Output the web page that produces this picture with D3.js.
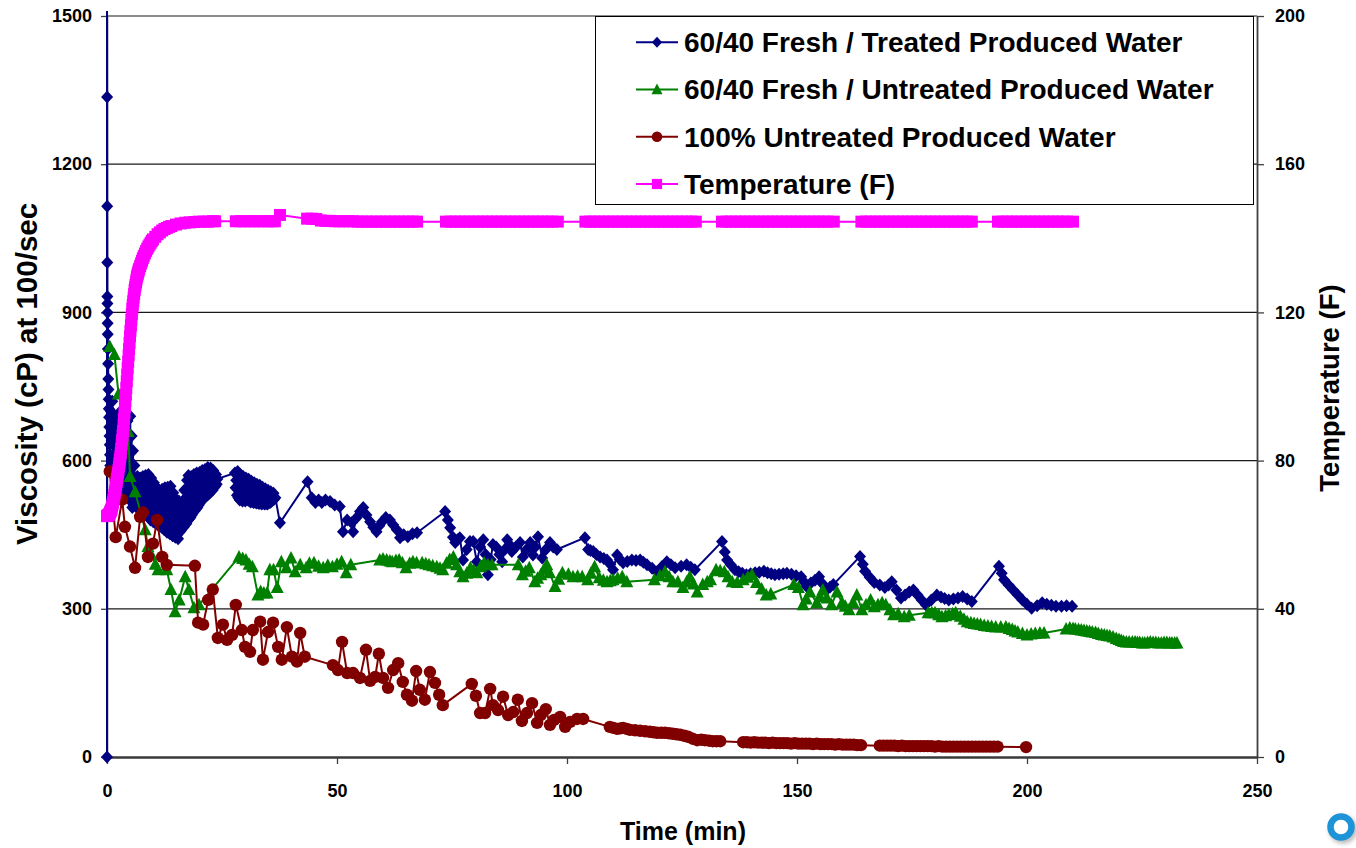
<!DOCTYPE html>
<html>
<head>
<meta charset="utf-8">
<script src="https://cdn.jsdelivr.net/npm/d3@7"></script>
<style>
  html, body { margin: 0; padding: 0; background: #fff; }
  svg { display: block; font-family: "Liberation Sans", Arial, Helvetica, sans-serif; font-weight: bold; }
</style>
</head>
<body>
<svg id="chart" width="1356" height="848"></svg>
<script>
// ---- Axis ticks ----
const viscTicks = [0, 300, 600, 900, 1200, 1500];
const tempTicks = [0, 40, 80, 120, 160, 200];
const timeTicks = [0, 50, 100, 150, 200, 250];

// ---- Series: [time (min), viscosity (cP)] ----
const treatedWater = [
  [0,0],[0,1540],[0.02,1336],[0.04,1115],[0.06,1001],[0.08,932],[0.1,918],[0.12,900],[0.14,878],[0.16,856],
  [0.2,826],[0.24,796],[0.28,765],[0.32,744],[0.36,724],[0.4,705],[0.45,688],[0.5,668],[0.55,650],[0.6,632],
  [0.65,612],[0.70,590],[0.85,700],[1.00,640],[1.15,720],[1.30,600],[1.45,690],[1.60,570],[1.75,680],[1.90,560],
  [2.05,670],[2.20,545],[2.35,660],[2.50,540],[2.65,650],[2.80,560],[2.95,700],[3.10,545],[3.25,685],[3.40,530],
  [3.55,670],[3.70,525],[3.85,660],[4.00,560],[4.15,695],[4.30,535],[4.45,680],[4.60,530],[4.75,650],[4.90,520],
  [5.05,690],[5.20,540],[5.35,650],[5.50,505],[5.65,620],[5.80,510],[5.95,590],
  [6.00,560],[6.15,515],[6.30,540],[6.45,505],[6.60,568],[6.75,512],[6.90,548],[7.05,503],[7.20,565],[7.35,510],
  [7.50,545],[7.65,500],[7.80,568],[7.95,505],[8.10,548],[8.25,495],[8.40,570],[8.55,500],[8.70,550],[8.85,488],
  [9.00,572],[9.15,490],[9.30,552],[9.45,480],[9.60,565],[9.75,485],[9.90,545],[10.05,476],[10.20,555],[10.35,480],
  [10.50,535],[10.65,472],[10.80,545],[10.95,478],[11.10,525],[11.25,468],[11.40,540],[11.55,475],[11.70,520],[11.85,465],
  [12.00,542],[12.15,470],[12.30,522],[12.45,460],[12.60,545],[12.75,465],[12.90,525],[13.05,455],[13.20,546],[13.35,460],
  [13.50,528],[13.65,452],[13.80,548],[13.95,455],[14.10,525],[14.25,448],[14.40,535],[14.55,452],[14.70,512],[14.85,445],
  [15.00,522],[15.15,448],[15.30,505],[15.45,442],[15.60,518],[15.75,455],[15.90,500],[16.05,458],[16.20,515],[16.35,465],
  [16.50,500],[16.65,465],[16.80,540],[16.95,470],[17.10,525],[17.25,472],[17.40,560],[17.55,478],[17.70,570],[17.85,482],
  [18.00,550],[18.15,485],[18.30,568],[18.45,490],[18.60,550],[18.75,495],[18.90,572],[19.05,498],[19.20,555],[19.35,502],
  [19.50,575],[19.65,505],[19.80,558],[19.95,510],[20.10,576],[20.25,515],[20.40,560],[20.55,518],[20.70,580],[20.85,522],
  [21.00,562],[21.15,525],[21.30,582],[21.45,528],[21.60,565],[21.75,530],[21.90,586],[22.05,532],[22.20,568],[22.35,535],
  [22.50,585],[22.65,538],[22.80,565],[22.95,540],[23.10,580],[23.25,545],[23.40,562],[23.55,548],[23.70,572],[23.85,552],
  [24.00,563],
  [27.80,575],[27.95,545],[28.10,560],[28.25,530],[28.40,578],[28.55,525],[28.70,555],[28.85,520],[29.00,572],[29.15,522],
  [29.30,552],[29.45,518],[29.60,568],[29.75,520],[29.90,548],[30.05,518],[30.20,565],[30.35,522],[30.50,545],[30.65,520],
  [30.80,562],[30.95,518],[31.10,542],[31.25,516],[31.40,558],[31.55,518],[31.70,540],[31.85,515],[32.00,555],[32.15,516],
  [32.30,538],[32.45,514],[32.60,552],[32.75,515],[32.90,535],[33.05,513],[33.20,550],[33.35,514],[33.50,532],[33.65,512],
  [33.80,546],[33.95,514],[34.10,530],[34.25,512],[34.40,543],[34.55,513],[34.70,528],[34.85,512],[35.00,540],[35.15,514],
  [35.30,527],[35.45,515],[35.60,537],[35.75,517],[35.90,527],[36.05,520],[36.20,534],[36.35,522],[36.60,525],
  [37.6,474],[43.6,557],[44.5,525],[45.3,515],[46.0,520],[46.7,515],[47.5,520],[48.5,517],[49.5,510],[50.6,507],
  [51.3,456],[52.2,480],[53.2,474],[53.5,456],[54.3,485],[55.0,497],[55.7,505],[56.4,490],[57.2,476],[57.9,465],
  [58.6,456],[59.2,468],[59.8,476],[60.6,485],[61.5,480],[62.2,470],[63.0,460],[63.7,444],[64.5,450],[65.4,446],
  [66.4,452],[67.4,454],
  [73.5,497],[74.1,480],[74.6,464],[75.2,445],[75.7,434],[76.2,440],[76.7,444],[77.4,399],[78.2,420],[78.9,436],
  [79.6,436],[80.4,395],[81.1,425],[81.8,440],[82.3,410],[82.8,369],[83.4,400],[83.9,430],[84.6,425],[85.3,410],
  [85.9,395],[86.5,420],[87.0,440],[87.5,430],[88.0,416],[88.9,425],[89.8,434],[90.4,405],[91.2,420],[92.0,434],
  [92.6,409],[93.1,425],[93.7,446],[94.6,403],[95.4,420],[96.3,434],[97.0,425],[97.8,420],
  [103.9,444],[104.6,420],[105.1,418],[105.7,416],[106.4,410],[107.2,405],[108.0,402],[108.7,399],[109.4,390],[110.0,379],
  [110.9,409],[111.5,400],[112.2,393],[113.1,396],[114.1,399],[115.0,398],[115.9,399],[116.6,394],[117.4,389],[118.5,382],
  [119.6,375],[120.6,385],[121.7,395],[122.6,389],[123.5,383],[124.8,386],[126.0,389],[126.9,384],[127.8,379],
  [133.7,436],[134.3,415],[134.8,399],[135.6,389],[136.5,379],[137.3,375],[138.1,372],[139.0,369],[139.9,371],[140.9,373],
  [141.8,374],[142.8,376],[143.6,373],[144.4,371],[145.2,369],[146.1,370],[147.0,371],[147.8,372],[148.8,370],[149.8,367],
  [150.9,365],[151.5,355],[152.1,345],[153.0,352],[153.9,358],[154.8,365],[155.6,350],[156.4,338],[157.2,344],[157.9,349],
  [163.7,406],[164.3,390],[164.8,376],[165.8,364],[166.8,353],[168.0,348],[169.1,343],[169.9,348],[170.6,355],[171.6,338],
  [172.6,322],[173.5,328],[174.4,334],[175.3,338],[176.2,328],[177.1,318],[178.0,308],[179.2,318],[180.4,328],[181.3,324],
  [182.1,321],[183.0,318],[184.0,320],[185.0,322],[186.0,325],[187.0,320],[188.0,315],
  [193.9,386],[194.5,372],[195.0,359],[196.0,348],[197.0,338],[198.0,328],[199.0,318],[200.0,309],[201.0,301],[202.2,306],
  [203.3,312],[204.3,309],[205.3,307],[206.3,305],[207.5,305],[208.6,306],[209.8,305]
];

const untreatedMix = [
  [0.6,831],[1.6,815],[2.5,735],[4.6,659],[5.0,568],[6.1,537],[8.3,460],[8.9,426],[9.6,410],[10.5,390],
  [11.1,379],[13.0,379],[13.9,339],[14.8,294],[15.7,318],[17.0,365],[17.8,339],[18.9,302],[20.0,308],
  [28.7,405],[29.5,402],[30.2,399],[30.9,390],[31.6,385],[32.8,328],[33.4,335],[34.1,332],[34.8,332],[35.4,379],
  [36.2,379],[37.0,343],[37.9,395],[39.0,383],[40.0,403],[40.9,375],[42.0,389],[43.3,383],[44.0,392],[45.0,393],
  [46.0,386],[47.0,383],[48.0,388],[49.0,385],[50.0,390],[51.0,395],[52.0,373],[53.0,389],
  [59.3,399],[60.0,401],[60.8,399],[61.5,397],[62.0,395],[62.8,398],[63.5,399],[64.2,393],[65.0,383],[65.8,392],
  [66.5,395],[67.3,393],[68.5,393],[69.3,391],[70.0,389],[70.8,387],[71.7,385],[72.4,382],[73.0,379],[73.8,392],
  [74.5,400],[75.3,405],[76.0,389],[76.7,375],[77.4,365],[78.2,372],[79.0,383],[79.7,378],[80.4,373],[81.2,385],
  [82.0,393],[82.8,389],[83.7,389],
  [89.4,389],[90.3,369],[91.0,376],[91.8,383],[93.0,355],[93.6,362],[94.3,369],[95.0,380],[95.6,389],[96.2,373],
  [97.4,345],[98.2,360],[99.0,373],[100.3,370],[101.3,365],[102.3,366],[103.3,365],[104.5,359],[105.2,372],[106.0,385],
  [107.0,363],[107.9,358],[108.7,355],[109.4,357],[110.0,359],[111.0,362],[112.0,365],[113.0,355],
  [119.0,359],[120.2,367],[121.3,375],[122.2,365],[123.0,355],[124.1,355],[125.2,343],[126.0,354],[126.7,365],[127.5,350],
  [128.3,334],[129.5,349],[130.5,355],[131.2,359],[132.4,379],[133.3,377],[134.2,375],[135.0,365],[135.9,355],[137.0,353],
  [138.3,359],[139.3,364],[140.2,369],[141.2,353],[142.3,340],[143.3,328],[144.3,330],
  [149.3,349],[150.3,343],[151.3,308],[152.0,320],[152.8,334],[154.3,312],[155.0,325],[155.6,338],[156.5,322],[157.5,308],
  [158.7,334],[159.8,312],[160.5,305],[161.3,298],[162.2,313],[163.0,328],[164.1,298],[165.0,308],[166.0,318],[166.8,304],
  [167.6,308],[168.5,312],[169.3,308],[170.2,298],[171.0,288],[172.0,290],[173.3,284],[174.4,287],
  [178.5,292],[179.3,292],[180.0,292],[180.8,288],[181.5,284],[182.3,286],[183.0,288],[183.8,290],[184.5,292],[185.5,285],
  [186.3,279],[187.0,274],[187.8,272],[188.5,270],[189.2,269],[189.9,268],[190.7,266],[191.5,265],[192.3,264],[193.2,263],
  [194.3,263],[195.4,263],[196.1,260],[196.8,258],[197.4,255],[198.0,253],[199.0,250],[200.0,247],[200.9,249],[201.8,250],
  [202.8,251],[203.7,251],
  [208.5,259],[209.3,261],[210.0,260],[210.5,259],[211.2,258],[211.8,257],[212.4,256],[213.0,255],[213.6,254],[214.2,253],
  [214.9,252],[215.5,250],[216.2,248],[216.8,247],[217.4,246],[218.0,245],[218.7,243],[219.4,240],[220.0,238],[220.5,236],
  [221.0,234],[221.6,233],[222.2,233],[222.9,233],[223.5,233],[224.0,232],[224.5,232],[225.1,231],[225.6,231],[226.2,232],
  [226.8,233],[227.4,232],[228.0,232],[228.6,231],[229.2,231],[229.8,232],[230.4,232],[231.0,231],[231.5,231],[232.1,231],
  [232.6,231]
];

const untreatedFull = [
  [0.6,578],[1.9,445],[3.3,521],[3.9,466],[5.0,426],[6.1,383],[7.2,486],[7.8,495],[8.9,405],[10.0,432],
  [10.9,480],[12.0,405],[13.0,389],
  [19.1,387],[19.8,272],[20.9,268],[22.0,318],[23.0,339],[24.1,241],[25.2,268],[26.1,237],[27.2,247],[28.0,308],
  [29.3,257],[30.0,223],[31.1,213],[31.7,257],[33.3,274],[33.9,197],[35.0,253],[36.1,272],[37.2,223],[38.0,197],
  [39.1,263],[40.2,203],[41.3,193],[42.0,251],[43.0,203],
  [49.1,186],[50.2,176],[51.1,233],[52.2,170],[53.5,170],[55.0,160],[56.3,217],[57.2,154],[58.3,162],[59.1,209],
  [60.0,160],[61.1,140],[62.2,176],[63.3,190],[64.3,152],[65.2,126],[66.3,114],[67.2,174],[68.0,136],[69.1,116],
  [70.2,172],[71.3,150],[72.2,126],[73.0,105],
  [79.3,148],[80.2,124],[81.1,89],[82.2,89],[83.3,138],[83.9,105],[85.0,95],[86.1,122],[87.2,85],[88.3,91],
  [89.3,116],[90.2,73],[91.3,89],[92.4,109],[93.5,69],[94.3,85],[95.4,97],[96.3,65],[97.2,75],[98.5,81],
  [99.6,61],[100.7,71],[102.2,77],[103.5,77],
  [109.3,61],[110.1,59],[110.9,57],[111.6,58],[112.2,59],[113.0,57],[113.7,55],[114.8,54],[115.9,53],[117.0,52],
  [118.0,51],[118.8,50],[119.6,49],[120.5,49],[121.3,49],[122.2,48],[123.0,47],[123.8,46],[124.6,45],[125.5,43],
  [126.3,41],[127.3,37],[128.3,34],[129.2,35],[130.0,34],[130.9,33],[131.7,32],[132.5,32],[133.3,32],
  [138.3,30],[139.1,30],[139.9,29],[140.7,30],[141.5,29],[142.3,29],[143.1,29],[143.9,28],[144.7,29],[145.5,28],
  [146.3,28],[147.1,28],[147.9,28],[148.7,27],[149.5,28],[150.3,27],[151.1,27],[151.9,27],[152.7,27],[153.5,26],
  [154.3,27],[155.1,26],[155.9,26],[156.7,26],[157.5,26],[158.3,25],[159.1,26],[159.9,25],[160.7,25],[161.5,25],
  [162.3,25],[163.1,24],[163.9,24],
  [168.0,23],[168.8,23],[169.6,23],[170.4,23],[171.2,23],[172.0,22],[172.8,23],[173.6,22],[174.4,22],[175.2,22],
  [176.0,22],[176.8,22],[177.6,22],[178.4,22],[179.2,22],[180.0,21],[180.8,22],[181.6,21],[182.4,21],[183.2,21],
  [184.0,21],[184.8,21],[185.6,21],[186.4,21],[187.2,21],[188.0,21],[188.8,21],[189.6,21],[190.4,21],[191.2,21],
  [192.0,21],[192.8,21],[193.6,21],
  [199.8,20]
];

// ---- Temperature: [time (min), temperature (F)] ----
const temperatureF = [
  [0,65],[0.1,65.1],[0.2,65.2],[0.3,65.3],[0.4,65.4],[0.5,65.5],[0.6,65.8],[0.7,66.1],[0.8,66.4],[0.9,66.7],
  [1.0,67],[1.1,67.6],[1.2,68.2],[1.3,68.8],[1.4,69.4],[1.5,70],[1.6,70.7],[1.7,71.4],[1.8,72.1],[1.9,72.8],
  [2.0,73.5],[2.1,74.3],[2.2,75.1],[2.3,75.9],[2.4,76.7],[2.5,77.5],[2.6,78.4],[2.7,79.3],[2.8,80.2],[2.9,81.1],
  [3.0,82],[3.1,83.2],[3.2,84.4],[3.3,85.6],[3.4,86.8],[3.5,88],[3.6,89.6],[3.7,91.2],[3.8,92.8],[3.9,94.4],
  [4.0,96],[4.1,97.8],[4.2,99.6],[4.3,101.4],[4.4,103.2],[4.5,105],[4.6,106.7],[4.7,108.4],[4.8,110.1],[4.9,111.8],
  [5.0,113.5],[5.1,115],[5.2,116.5],[5.3,118],[5.4,119.5],[5.5,121],[5.6,122],[5.7,123],[5.8,124],[5.9,125],
  [6.0,126],[6.1,126.7],[6.2,127.4],[6.3,128.1],[6.4,128.8],[6.5,129.5],[6.6,130],[6.7,130.4],[6.8,130.9],[6.9,131.4],
  [7.0,131.8],[7.2,132.5],[7.4,133.2],[7.6,133.9],[7.8,134.6],[8.0,135.2],[8.25,135.9],[8.5,136.6],[8.75,137.2],[9.0,137.8],
  [9.25,138.3],[9.5,138.8],[9.75,139.3],[10,139.7],[10.5,140.4],[11,141.1],[11.5,141.6],[12,142.1],[12.5,142.5],[13,142.8],
  [13.5,143.1],[14,143.3],[15,143.7],[16,144],[17,144.2],[18,144.3],[19,144.4],[20,144.5],[21,144.5],[22,144.5],
  [23,144.6],[23.5,144.6],
  [28,144.6],[29,144.6],[30,144.6],[31,144.6],[32,144.6],[33,144.6],[34,144.6],[35,144.6],[36,144.6],[36.5,144.6],
  [37.6,146.3],
  [43.5,145.3],[44.5,145.3],[45.5,145.2],[46.5,144.8],[47.5,144.7],[48.5,144.7],[49.5,144.6],[50.5,144.6],[51.5,144.6],[52.5,144.6],
  [53.5,144.6],[54.5,144.5],[55.5,144.5],[56.5,144.5],[57.5,144.5],[58.5,144.5],[59.5,144.5],[60.5,144.5],[61.5,144.5],[62.5,144.5],
  [63.5,144.5],[64.5,144.5],[65.5,144.5],[66.5,144.5],[67.4,144.5],
  [73.7,144.5],[74.7,144.5],[75.7,144.5],[76.7,144.5],[77.7,144.5],[78.7,144.5],[79.7,144.5],[80.7,144.5],[81.7,144.5],[82.7,144.5],
  [83.7,144.5],[84.7,144.5],[85.7,144.5],[86.7,144.5],[87.7,144.5],[88.7,144.5],[89.7,144.5],[90.7,144.5],[91.7,144.5],[92.7,144.5],
  [93.7,144.5],[94.7,144.5],[95.7,144.5],[96.7,144.5],[98,144.5],
  [104,144.5],[105,144.5],[106,144.5],[107,144.5],[108,144.5],[109,144.5],[110,144.5],[111,144.5],[112,144.5],[113,144.5],
  [114,144.5],[115,144.5],[116,144.5],[117,144.5],[118,144.5],[119,144.5],[120,144.5],[121,144.5],[122,144.5],[123,144.5],
  [124,144.5],[125,144.5],[126,144.5],[127,144.5],[128,144.5],
  [133.7,144.5],[134.7,144.5],[135.7,144.5],[136.7,144.5],[137.7,144.5],[138.7,144.5],[139.7,144.5],[140.7,144.5],[141.7,144.5],[142.7,144.5],
  [143.7,144.5],[144.7,144.5],[145.7,144.5],[146.7,144.5],[147.7,144.5],[148.7,144.5],[149.7,144.5],[150.7,144.5],[151.7,144.5],[152.7,144.5],
  [153.7,144.5],[154.7,144.5],[155.7,144.5],[156.7,144.5],[158,144.5],
  [164,144.5],[165,144.5],[166,144.5],[167,144.5],[168,144.5],[169,144.5],[170,144.5],[171,144.5],[172,144.5],[173,144.5],
  [174,144.5],[175,144.5],[176,144.5],[177,144.5],[178,144.5],[179,144.5],[180,144.5],[181,144.5],[182,144.5],[183,144.5],
  [184,144.5],[185,144.5],[186,144.5],[187,144.5],[188,144.5],
  [193.7,144.5],[194.7,144.5],[195.7,144.5],[196.7,144.5],[197.7,144.5],[198.7,144.5],[199.7,144.5],[200.7,144.5],[201.7,144.5],[202.7,144.5],
  [203.7,144.5],[204.7,144.5],[205.7,144.5],[206.7,144.5],[207.7,144.5],[208.7,144.5],[210,144.5]
];

const seriesNames = [
  "60/40 Fresh / Treated Produced Water",
  "60/40 Fresh / Untreated Produced Water",
  "100% Untreated Produced Water",
  "Temperature (F)"
];

// ---- Layout ----
const svg = d3.select("#chart");
const plot = { left: 107, right: 1257, top: 16, bottom: 757 };
const FONT = '"Liberation Sans", Arial, Helvetica, sans-serif';

const x = d3.scaleLinear().domain([0, 250]).range([plot.left, plot.right]);
const yVisc = d3.scaleLinear().domain([0, 1500]).range([plot.bottom, plot.top]);
const yTemp = d3.scaleLinear().domain([0, 200]).range([plot.bottom, plot.top]);

// Marker shapes
const shapes = {
  diamond: "M0,-6.5L6,0L0,6.5L-6,0Z",
  triangle: "M0,-7L6.5,5.5L-6.5,5.5Z",
  circle: d3.symbol(d3.symbolCircle, Math.PI * 6.2 * 6.2)(),
  square: "M-6,-6H6V6H-6Z"
};

const series = [
  { name: seriesNames[0], data: treatedWater, y: yVisc, color: "#000080", shape: "diamond" },
  { name: seriesNames[1], data: untreatedMix, y: yVisc, color: "#008000", shape: "triangle" },
  { name: seriesNames[2], data: untreatedFull, y: yVisc, color: "#800000", shape: "circle" },
  { name: seriesNames[3], data: temperatureF, y: yTemp, color: "#FF00FF", shape: "square" }
];

const defs = svg.append("defs");
defs.append("clipPath").attr("id", "plotClip")
  .append("rect")
  .attr("x", plot.left - 10).attr("y", 11)
  .attr("width", plot.right - plot.left + 20).attr("height", plot.bottom - 11 + 10);
const soft = defs.append("filter").attr("id", "soft").attr("x", "-50%").attr("y", "-50%").attr("width", "200%").attr("height", "200%");
soft.append("feGaussianBlur").attr("stdDeviation", 2);

// Horizontal gridlines
svg.append("g")
  .selectAll("line")
  .data(viscTicks.filter(d => d > 0))
  .join("line")
  .attr("x1", plot.left).attr("x2", plot.right)
  .attr("y1", d => yVisc(d)).attr("y2", d => yVisc(d))
  .attr("stroke", "#1a1a1a").attr("stroke-width", 1.2);

function styleAxis(g, size) {
  g.attr("font-family", FONT).attr("font-size", size).attr("font-weight", "bold");
  g.selectAll(".tick text").attr("fill", "#000");
  g.selectAll(".tick line").attr("stroke", "#404040").attr("stroke-width", 1.3);
}

// Left axis (viscosity)
const axLeft = svg.append("g")
  .attr("transform", `translate(${plot.left},0)`)
  .call(d3.axisLeft(yVisc).tickValues(viscTicks).tickFormat(d3.format("d"))
    .tickSizeInner(6).tickSizeOuter(0).tickPadding(9));
styleAxis(axLeft, 18);
axLeft.select(".domain").attr("stroke", "#404040").attr("stroke-width", 1.5);

// Right axis (temperature)
const axRight = svg.append("g")
  .attr("transform", `translate(${plot.right},0)`)
  .call(d3.axisRight(yTemp).tickValues(tempTicks).tickFormat(d3.format("d"))
    .tickSizeInner(7).tickSizeOuter(0).tickPadding(11));
styleAxis(axRight, 18);
axRight.select(".domain").attr("stroke", "#404040").attr("stroke-width", 1.8);

// Bottom axis (time)
const axBottom = svg.append("g")
  .attr("transform", `translate(0,${plot.bottom})`)
  .call(d3.axisBottom(x).tickValues(timeTicks).tickFormat(d3.format("d"))
    .tickSizeInner(7).tickSizeOuter(0).tickPadding(20));
styleAxis(axBottom, 18);
axBottom.select(".domain").attr("stroke", "#3a3a3a").attr("stroke-width", 2.6);

// Series: line plus markers, drawn in order
const plotLayer = svg.append("g").attr("clip-path", "url(#plotClip)");
series.forEach(s => {
  const g = plotLayer.append("g");
  g.append("path")
    .datum(s.data)
    .attr("d", d3.line().x(d => x(d[0])).y(d => s.y(d[1])))
    .attr("fill", "none")
    .attr("stroke", s.color)
    .attr("stroke-width", 2)
    .attr("stroke-linejoin", "round");
  g.selectAll("path.marker")
    .data(s.data)
    .join("path")
    .attr("class", "marker")
    .attr("transform", d => `translate(${x(d[0])},${s.y(d[1])})`)
    .attr("d", shapes[s.shape])
    .attr("fill", s.color);
});

// Legend
const legend = svg.append("g");
legend.append("rect")
  .attr("x", 595.5).attr("y", 16.5).attr("width", 658).attr("height", 188)
  .attr("fill", "#fff").attr("stroke", "#000").attr("stroke-width", 1);
const rowY = d3.scalePoint().domain(seriesNames).range([42.3, 184]);
const rows = legend.selectAll("g.row").data(series).join("g")
  .attr("class", "row")
  .attr("transform", d => `translate(0,${rowY(d.name)})`);
rows.append("line")
  .attr("x1", 636).attr("x2", 678).attr("y1", 0).attr("y2", 0)
  .attr("stroke", d => d.color).attr("stroke-width", 2);
rows.append("path")
  .attr("transform", "translate(657,0) scale(0.85)")
  .attr("d", d => shapes[d.shape])
  .attr("fill", d => d.color);
rows.append("text")
  .attr("x", 684).attr("y", 9.8)
  .attr("font-family", FONT).attr("font-size", 28).attr("font-weight", "bold")
  .attr("fill", "#000")
  .text(d => d.name);

// Axis titles
svg.append("text")
  .attr("x", 683).attr("y", 840)
  .attr("text-anchor", "middle")
  .attr("font-family", FONT).attr("font-size", 25).attr("font-weight", "bold")
  .text("Time (min)");

svg.append("text")
  .attr("transform", "translate(37,374) rotate(-90)")
  .attr("text-anchor", "middle")
  .attr("font-family", FONT).attr("font-size", 29.5).attr("font-weight", "bold")
  .text("Viscosity (cP) at 100/sec");

svg.append("text")
  .attr("transform", "translate(1339,388) rotate(-90)")
  .attr("text-anchor", "middle")
  .attr("font-family", FONT).attr("font-size", 27.5).attr("font-weight", "bold")
  .text("Temperature (F)");

// Small ring badge in the lower-right corner
const badge = svg.append("g").attr("transform", "translate(1341,827)");
badge.append("circle").attr("cx", 2).attr("cy", 2.5).attr("r", 11)
  .attr("fill", "none").attr("stroke", "rgba(0,0,0,0.28)").attr("stroke-width", 6)
  .attr("filter", "url(#soft)");
badge.append("circle").attr("r", 10.5)
  .attr("fill", "#fff").attr("stroke", "#1d93d8").attr("stroke-width", 6.5);
</script>
</body>
</html>
